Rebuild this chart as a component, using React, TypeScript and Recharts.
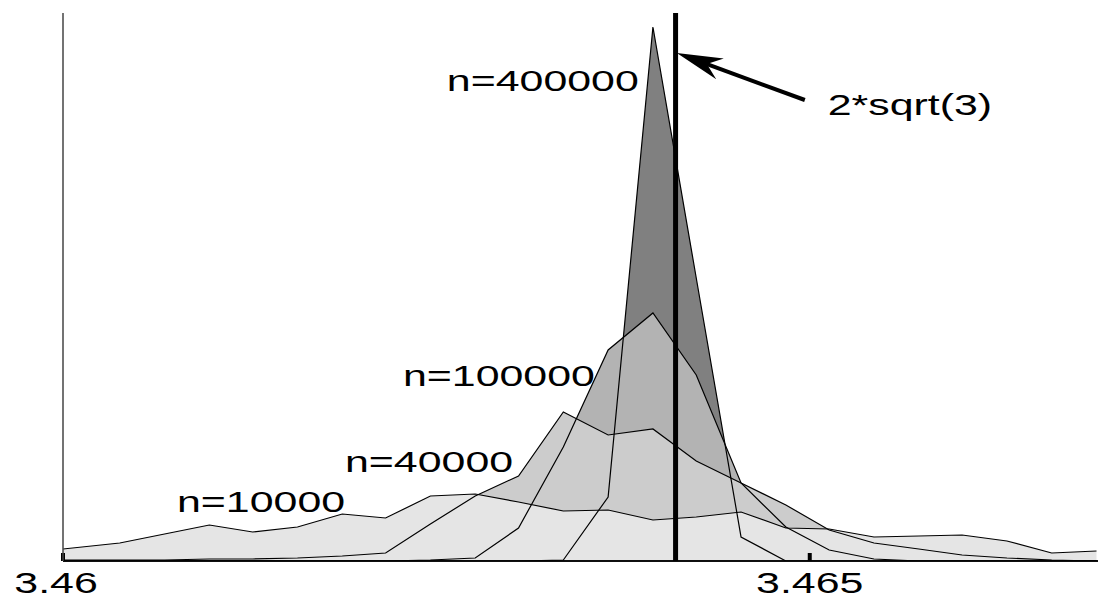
import React from "react";
import {
  ComposedChart, Area, Line, XAxis, YAxis, ReferenceLine, ReferenceDot,
} from "recharts";

/* bin centres and the four histogram heights (arbitrary units) */
const xs = [
  3.46, 3.46038, 3.46068, 3.46098, 3.46127, 3.46157, 3.46187, 3.46216,
  3.46246, 3.46276, 3.46305, 3.46335, 3.46365, 3.46395, 3.46424, 3.46454,
  3.46484, 3.46513, 3.46543, 3.46573, 3.46602, 3.46632, 3.46662, 3.46692,
];
const n10000 = [12, 18, 27, 36, 29, 34, 47, 43, 65, 67, 59, 50, 51, 41, 44, 49, 33, 32, 24, 25, 26, 20, 8, 10];
const n40000 = [1, 1, 1, 2, 2, 3, 5, 8, 37, 65, 85, 149, 126, 132, 100, 78, 56, 31, 18, 12, 6, 3, 1, 0];
const n100000 = [0, 0, 0, 0, 0, 0, 0, 0, 1, 3, 33, 114, 211, 248, 186, 78, 34, 11, 2, 0, 0, 0, 0, 0];
const n400000 = [0, 0, 0, 0, 0, 0, 0, 0, 0, 0, 0, 1, 64, 534, 283, 24, 0, 0, 0, 0, 0, 0, 0, 0];

const xTicks = [3.46, 3.465];
const SQRT3x2 = 2 * Math.sqrt(3);

const labels = [
  { text: "n=400000", x: 3.46257, y: 470 },
  { text: "n=100000", x: 3.462276, y: 175 },
  { text: "n=40000", x: 3.461888, y: 89 },
  { text: "n=10000", x: 3.460763, y: 49 },
  { text: "2*sqrt(3)", x: 3.46512, y: 446 },
];

const data = xs.map((x, i) => ({
  x,
  a: n10000[i],
  b: n40000[i],
  c: n100000[i],
  d: n400000[i],
}));

const FONT = "'Liberation Sans', Arial, Helvetica, sans-serif";
const SX = 1.43;

// stretched text, like the old postscript plot
function StretchText({ x, y, text, anchor = "start" }: any) {
  return (
    <text
      transform={`translate(${x},${y}) scale(${SX},1)`}
      x={0}
      y={0}
      textAnchor={anchor}
      fontFamily={FONT}
      fontSize={30}
      fill="#000"
    >
      {text}
    </text>
  );
}

function XTick({ x, y, payload }: any) {
  // first label sits a bit left of its tick in the original
  const shift = payload.value === 3.46 ? -7 : 0;
  return (
    <g>
      <StretchText x={x + shift} y={y + 32} text={String(payload.value)} anchor="middle" />
    </g>
  );
}

function Arrow({ x1, y1, x2, y2 }: any) {
  const dx = x2 - x1;
  const dy = y2 - y1;
  const len = Math.sqrt(dx * dx + dy * dy);
  const ux = dx / len;
  const uy = dy / len;
  const hl = 38;
  const hw = 11;
  const bx = x2 - ux * hl;
  const by = y2 - uy * hl;
  const nx = -uy;
  const ny = ux;
  const back = 8;
  const pts = [
    [x2, y2],
    [bx + nx * hw - ux * back, by + ny * hw - uy * back],
    [bx + ux * 6, by + uy * 6],
    [bx - nx * hw - ux * back, by - ny * hw - uy * back],
  ];
  return (
    <g>
      <line x1={x1} y1={y1} x2={bx + ux * 8} y2={by + uy * 8} stroke="#000" strokeWidth={4} />
      <polygon points={pts.map((p) => p.join(",")).join(" ")} fill="#000" />
    </g>
  );
}

export default function App() {
  return (
    <div style={{ position: "absolute", left: 0, top: 0, width: 1098, height: 600, background: "#fff" }}>
      <ComposedChart
        width={1098}
        height={600}
        data={data}
        margin={{ top: 13, right: 0, left: 0, bottom: 0 }}
      >
        <XAxis
          type="number"
          dataKey="x"
          domain={[3.46, 3.46693]}
          ticks={xTicks}
          allowDataOverflow
          height={39}
          tickSize={0}
          tickMargin={0}
          tickLine={false}
          axisLine={{ stroke: "#000", strokeWidth: 1.5 }}
          tick={<XTick />}
        />
        <YAxis
          type="number"
          domain={[0, 548]}
          allowDataOverflow
          width={63}
          tick={false}
          tickLine={false}
          axisLine={{ stroke: "#444", strokeWidth: 1.5 }}
        />

        {/* fills: darkest first, lighter ones painted over */}
        <Area type="linear" dataKey="d" stroke="none" fill="#808080" fillOpacity={1} isAnimationActive={false} />
        <Area type="linear" dataKey="c" stroke="none" fill="#b3b3b3" fillOpacity={1} isAnimationActive={false} />
        <Area type="linear" dataKey="b" stroke="none" fill="#cccccc" fillOpacity={1} isAnimationActive={false} />
        <Area type="linear" dataKey="a" stroke="none" fill="#e5e5e5" fillOpacity={1} isAnimationActive={false} />

        {/* outlines on top of every fill */}
        <Line type="linear" dataKey="d" stroke="#000" strokeWidth={1.2} dot={false} isAnimationActive={false} />
        <Line type="linear" dataKey="c" stroke="#000" strokeWidth={1.2} dot={false} isAnimationActive={false} />
        <Line type="linear" dataKey="b" stroke="#000" strokeWidth={1.2} dot={false} isAnimationActive={false} />
        <Line type="linear" dataKey="a" stroke="#000" strokeWidth={1.2} dot={false} isAnimationActive={false} />

        <ReferenceLine y={0} stroke="#000" strokeWidth={1.5} />
        {xTicks.map((t) => (
          <ReferenceLine key={t} segment={[{ x: t, y: 0 }, { x: t, y: 8 }]} stroke="#000" strokeWidth={4} />
        ))}
        <ReferenceLine x={SQRT3x2} stroke="#000" strokeWidth={5} />
        <ReferenceLine
          segment={[{ x: 3.464967, y: 461 }, { x: 3.46411, y: 508 }]}
          shape={(p: any) => <Arrow {...p} />}
        />

        {labels.map((l) => (
          <ReferenceDot
            key={l.text}
            x={l.x}
            y={l.y}
            r={0}
            shape={(p: any) => <StretchText x={p.cx} y={p.cy} text={l.text} />}
          />
        ))}
      </ComposedChart>
    </div>
  );
}
